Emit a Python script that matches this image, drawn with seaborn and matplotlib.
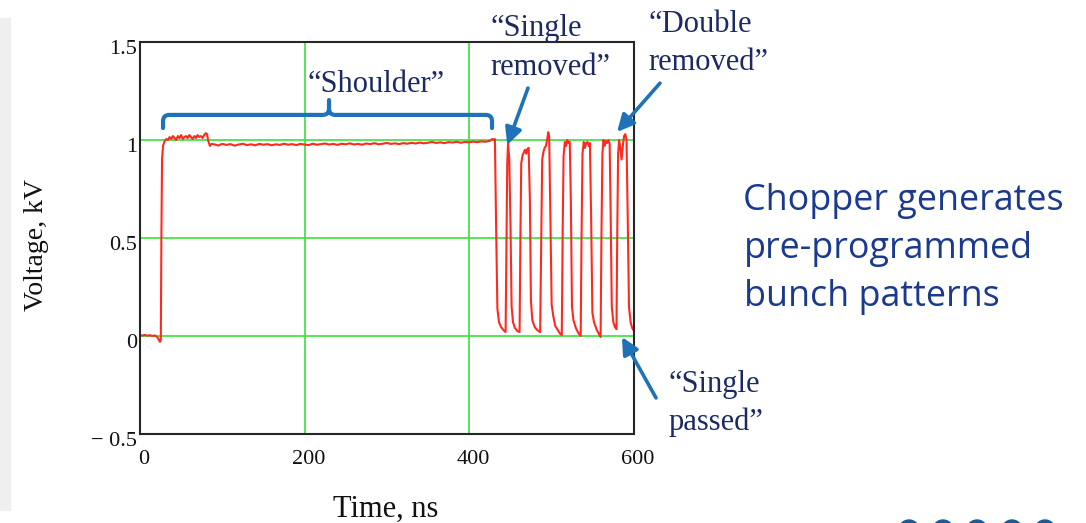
import matplotlib
matplotlib.use("Agg")
import matplotlib.pyplot as plt
import numpy as np
import pandas as pd
import seaborn as sns
from matplotlib.path import Path
from matplotlib.patches import PathPatch, Rectangle, Ellipse
from matplotlib.transforms import ScaledTranslation

# ---------------------------------------------------------------- data
# chopper output before the trigger
pre_t = [0, 3, 6, 9, 12, 15, 18, 21, 23, 24.3]
pre_v = [0.005, 0.002, 0.006, 0.001, 0.004, 0.0, 0.003, -0.005, -0.02, -0.03]

# "shoulder": rise and flat top
shoulder_t = [25.3, 26.0, 26.8, 28, 30, 32, 34, 36, 38, 40, 42, 44, 46, 48,
              50, 52, 54, 56, 58, 60, 62, 64, 66, 68, 70, 72, 74, 76, 78, 80,
              81.5, 83, 85, 87,
              90, 95, 100, 105, 110, 115, 120, 125, 130, 135, 140, 145, 150,
              155, 160, 165, 170, 175, 180, 185, 190, 195, 200, 205, 210, 215,
              220, 225, 230, 235, 240, 245, 250, 255, 260, 265, 270, 275, 280,
              285, 290, 295, 300, 305, 310, 315, 320, 325, 330, 335, 340, 345,
              350, 355, 360, 365, 370, 375, 380, 385, 390, 395, 400, 405, 410,
              415, 420, 425, 428.5]
shoulder_v = [-0.02, 0.5, 0.9, 0.97, 0.995, 1.005, 1.0, 1.015, 1.005, 1.02,
              1.01, 1.0, 1.02, 1.01, 1.025, 1.005, 1.015, 1.02, 1.01, 1.025,
              1.015, 1.005, 1.02, 1.01, 1.025, 1.015, 1.02, 1.01, 1.025, 1.035,
              1.03, 0.995, 0.97, 0.98,
              0.978, 0.972, 0.980, 0.975, 0.979, 0.971, 0.977, 0.981, 0.974,
              0.978, 0.973, 0.980, 0.976, 0.979, 0.973, 0.978, 0.975, 0.981,
              0.976, 0.979, 0.974, 0.980, 0.977, 0.974, 0.981, 0.976, 0.979,
              0.982, 0.977, 0.980, 0.975, 0.981, 0.978, 0.983, 0.977, 0.980,
              0.976, 0.982, 0.979, 0.984, 0.978, 0.981, 0.985, 0.980, 0.983,
              0.979, 0.984, 0.981, 0.986, 0.982, 0.987, 0.983, 0.986, 0.990,
              0.985, 0.988, 0.984, 0.989, 0.987, 0.991, 0.986, 0.990, 0.988,
              0.992, 0.989, 0.993, 0.991, 0.995, 1.005]

# pre-programmed pulse train
train_t = [430, 431.5, 433, 434.5, 436.5, 439, 442, 444.5,
           445.5, 446.5, 447.5, 449, 450.5, 451.8,
           453.5, 456, 459, 461.5,
           462.5, 463.5, 465, 466.5, 468, 469.5, 471, 472.5, 474, 475.3,
           477, 480, 483, 486.5,
           487.8, 489, 490.5, 492, 493.5, 495, 496.3, 497.5, 499, 500.5,
           502.5, 505, 508, 511, 512.8,
           513.8, 515, 516.5, 518, 519.5, 521, 522.5, 523.8, 525.2,
           527, 530, 533, 535.8,
           536.8, 538, 539.5, 541, 542.5, 544, 545.5, 547, 548.5, 550,
           552, 555, 558, 560,
           561, 562.2, 563.5, 565, 566.5, 568, 569.5, 571, 572.3, 573.6,
           575.5, 577.5, 579.3,
           580.2, 581.3, 582.5, 584, 585.5, 587, 588.5, 590, 591.5, 593, 594.5,
           596.5, 598.5, 600]
train_v = [1.0, 1.005, 0.55, 0.14, 0.07, 0.045, 0.03, 0.02,
           0.45, 0.88, 0.985, 0.9, 0.55, 0.15,
           0.07, 0.04, 0.025, 0.02,
           0.5, 0.88, 0.92, 0.935, 0.95, 0.93, 0.955, 0.96, 0.7, 0.18,
           0.08, 0.045, 0.03, 0.02,
           0.5, 0.9, 0.94, 0.96, 0.97, 1.0, 1.04, 1.02, 0.6, 0.16,
           0.1, 0.05, 0.03, 0.01, 0.005,
           0.5, 0.92, 0.99, 0.97, 1.0, 0.985, 0.99, 0.7, 0.15,
           0.08, 0.04, 0.015, 0.0,
           0.5, 0.93, 0.99, 0.96, 0.985, 0.99, 0.97, 0.985, 0.6, 0.12,
           0.07, 0.035, 0.01, -0.005,
           0.5, 0.93, 1.0, 0.97, 0.995, 0.985, 1.0, 0.98, 0.6, 0.15,
           0.07, 0.045, 0.035,
           0.5, 0.93, 1.0, 0.96, 0.9, 0.97, 1.02, 1.03, 1.0, 0.6, 0.15,
           0.07, 0.04, 0.03]

x_ticks = [0, 200, 400, 600]
x_tick_labels = ["0", "200", "400", "600"]
y_ticks = [-0.5, 0, 0.5, 1, 1.5]
y_tick_labels = ["\u2212 0.5", "0", "0.5", "1", "1.5"]

df = pd.DataFrame({
    "Time, ns": pre_t + shoulder_t + train_t,
    "Voltage, kV": pre_v + shoulder_v + train_v,
})

# ---------------------------------------------------------------- style
W, H = 1086, 523
sns.set_theme(style="white")
plt.rcParams["font.family"] = ["Liberation Serif", "DejaVu Serif"]

NAVY = "#1b2a63"
ARROW = "#1f72b8"
TRACE = "#ff2a1f"
GRID = "#3ae03a"


def fx(px):
    return px / W


def fy(py):
    return 1 - py / H


fig = plt.figure(figsize=(W / 100, H / 100), dpi=100)
fig.patch.set_facecolor("white")

# light panel strip at the far left
fig.patches.append(Rectangle((0, fy(510)), fx(10), fy(18) - fy(510),
                             transform=fig.transFigure, color="#efefef",
                             zorder=0))

ax = fig.add_axes([fx(140), fy(434), fx(633.5) - fx(140), fy(42) - fy(434)])

sns.lineplot(data=df, x="Time, ns", y="Voltage, kV", ax=ax, color=TRACE,
             linewidth=1.5, estimator=None, sort=False, zorder=3)

ax.set_xlim(0, 600)
ax.set_ylim(-0.5, 1.5)
ax.set_xticks(x_ticks)
ax.set_xticklabels(x_tick_labels)
ax.set_yticks(y_ticks)
ax.set_yticklabels(y_tick_labels)
ax.grid(True, color=GRID, linewidth=1.2)
ax.set_axisbelow(True)
for s in ax.spines.values():
    s.set_visible(True)
    s.set_color("#262626")
    s.set_linewidth(1.5)
    s.set_zorder(4)

ax.tick_params(axis="both", length=0, labelsize=16, colors="#111111")
ax.tick_params(axis="x", pad=11.5)
ax.tick_params(axis="y", pad=2.2)
for lbl in ax.get_xticklabels():
    lbl.set_transform(lbl.get_transform()
                      + ScaledTranslation(4 / 100, 0, fig.dpi_scale_trans))
for lbl in ax.get_yticklabels():
    lbl.set_transform(lbl.get_transform()
                      + ScaledTranslation(0, -5 / 100, fig.dpi_scale_trans))

ax.set_xlabel("Time, ns", fontsize=22, color="#111111")
ax.xaxis.set_label_coords(0.4985, -0.154)
ax.set_ylabel("Voltage, kV", fontsize=20, color="#111111")
ax.yaxis.label.set_va("center")
ax.yaxis.set_label_coords(-0.2107, 0.482)

# ---------------------------------------------------------------- bracket over the shoulder
bx0, bxc, bx1 = 28.0, 229.8, 428.0
by_end, by_bar, by_top = 1.061, 1.128, 1.204
rx, ry = 7.5, 0.033
verts = [(bx0, by_end), (bx0, by_bar - ry), (bx0, by_bar), (bx0 + rx, by_bar),
         (bxc - rx, by_bar), (bxc, by_bar), (bxc, by_bar + ry), (bxc, by_top),
         (bxc, by_bar + ry), (bxc, by_bar), (bxc + rx, by_bar),
         (bx1 - rx, by_bar), (bx1, by_bar), (bx1, by_bar - ry), (bx1, by_end)]
codes = [Path.MOVETO, Path.LINETO, Path.CURVE3, Path.CURVE3,
         Path.LINETO, Path.CURVE3, Path.CURVE3, Path.LINETO,
         Path.MOVETO, Path.CURVE3, Path.CURVE3,
         Path.LINETO, Path.CURVE3, Path.CURVE3, Path.LINETO]
ax.add_patch(PathPatch(Path(verts, codes), fill=False, edgecolor=ARROW,
                       linewidth=3.0, capstyle="round", joinstyle="round",
                       clip_on=False, zorder=5))

# ---------------------------------------------------------------- arrows
arrow_style = dict(arrowstyle="-|>,head_length=0.85,head_width=0.42",
                   color=ARROW, lw=2.6, shrinkA=0, shrinkB=0)
ax.annotate("", xy=(446.5, 0.975), xytext=(471.7, 1.265),
            arrowprops=arrow_style, annotation_clip=False, zorder=6)
ax.annotate("", xy=(580.0, 1.041), xytext=(632.2, 1.29),
            arrowprops=arrow_style, annotation_clip=False, zorder=6)
ax.annotate("", xy=(586.0, -0.005), xytext=(627.4, -0.316),
            arrowprops=arrow_style, annotation_clip=False, zorder=6)

# ---------------------------------------------------------------- callout texts
def label(x, y, s, **kw):
    fig.text(fx(x), fy(y), s, color=NAVY, fontsize=22, va="baseline", **kw)


label(376, 92, "\u201cShoulder\u201d", ha="center")
label(491, 36, "\u201cSingle", ha="left")
label(490, 75, "removed\u201d", ha="left")
label(648, 32, "\u201cDouble", ha="left")
label(648, 70, "removed\u201d", ha="left")
label(668, 392, "\u201cSingle", ha="left")
label(669, 430, "passed\u201d", ha="left")

side_font = dict(color="#1b3a8f", fontsize=25.8, va="baseline", ha="left",
                 family=["Open Sans", "DejaVu Sans"])
fig.text(fx(743), fy(210), "Chopper generates", **side_font)
fig.text(fx(744), fy(258), "pre-programmed", **side_font)
fig.text(fx(744), fy(306), "bunch patterns", **side_font)

# logo tops peeking in at the bottom edge
for cx in [909, 943, 977, 1012, 1045]:
    fig.patches.append(Ellipse((fx(cx), fy(532)), fx(22), 24 / H,
                               transform=fig.transFigure, color="#1a5b95",
                               zorder=1))

fig.savefig("out.png", dpi=100)
